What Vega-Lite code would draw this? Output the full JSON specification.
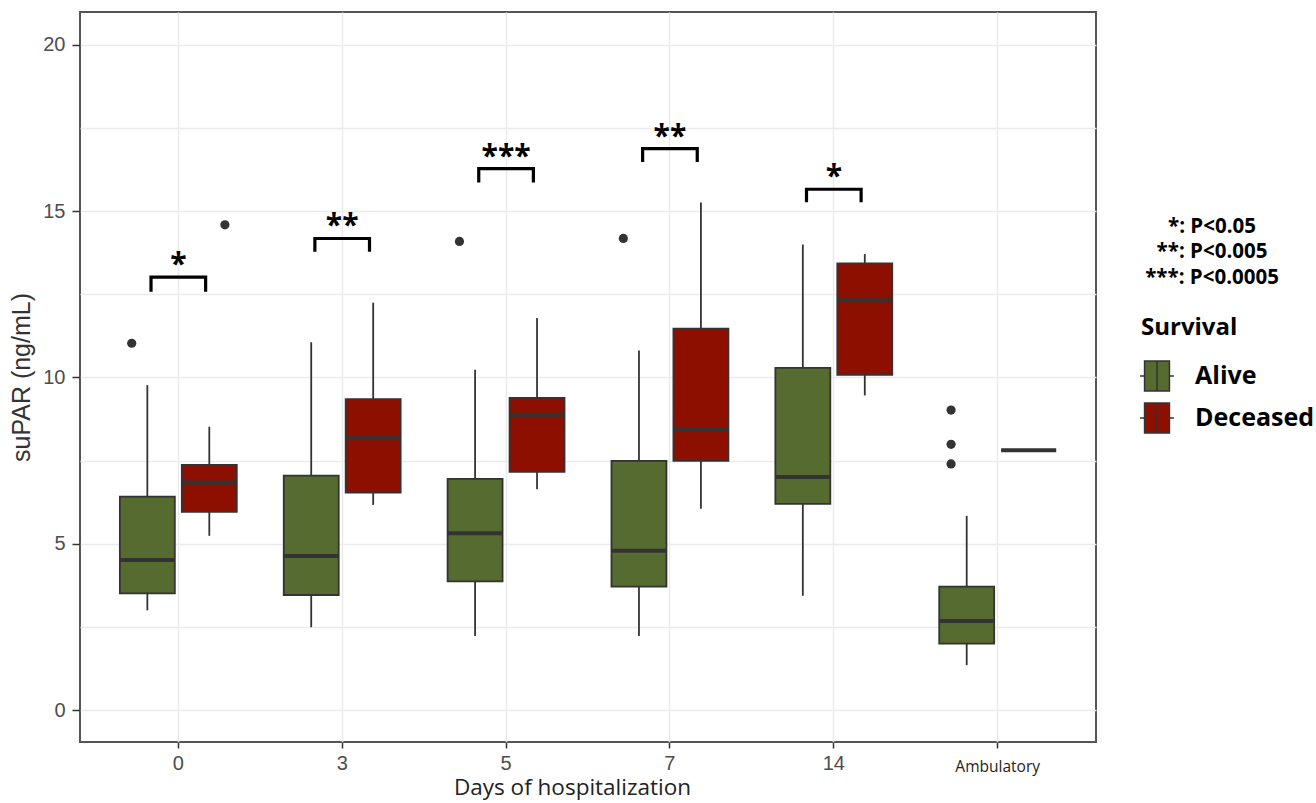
{
  "$schema": "https://vega.github.io/schema/vega-lite/v6.json",
  "width": 1016,
  "height": 730,
  "autosize": {"type": "none"},
  "padding": {"left": 80, "top": 12, "right": 220, "bottom": 61},
  "background": "white",
  "title": {
    "text": ["*: P<0.05", "**: P<0.005", "***: P<0.0005"],
    "orient": "top",
    "frame": "group",
    "anchor": "end",
    "align": "center",
    "baseline": "alphabetic",
    "offset": 0,
    "dx": 116,
    "dy": 292,
    "font": "Open Sans",
    "fontSize": 20.5,
    "fontWeight": "bold",
    "lineHeight": 25.5,
    "color": "black"
  },
  "config": {
    "view": {"stroke": "#555555", "strokeWidth": 2},
    "axis": {
      "domain": false,
      "gridColor": "#ebebeb",
      "gridWidth": 1.5,
      "tickColor": "#333333",
      "tickWidth": 1.5,
      "labelColor": "#4d4d4d",
      "labelFont": "Liberation Sans",
      "labelFontSize": 20,
      "titleFontWeight": "normal"
    }
  },
  "datasets": {
    "boxes": [
      {"day": "0", "survival": "Alive", "lo": 3.0, "q1": 3.51, "med": 4.51, "q3": 6.42, "hi": 9.77},
      {"day": "0", "survival": "Deceased", "lo": 5.24, "q1": 5.96, "med": 6.84, "q3": 7.37, "hi": 8.52},
      {"day": "3", "survival": "Alive", "lo": 2.49, "q1": 3.46, "med": 4.63, "q3": 7.05, "hi": 11.06},
      {"day": "3", "survival": "Deceased", "lo": 6.17, "q1": 6.54, "med": 8.17, "q3": 9.35, "hi": 12.25},
      {"day": "5", "survival": "Alive", "lo": 2.23, "q1": 3.87, "med": 5.32, "q3": 6.95, "hi": 10.23},
      {"day": "5", "survival": "Deceased", "lo": 6.64, "q1": 7.16, "med": 8.88, "q3": 9.39, "hi": 11.79},
      {"day": "7", "survival": "Alive", "lo": 2.23, "q1": 3.71, "med": 4.79, "q3": 7.49, "hi": 10.81},
      {"day": "7", "survival": "Deceased", "lo": 6.05, "q1": 7.49, "med": 8.42, "q3": 11.47, "hi": 15.26},
      {"day": "14", "survival": "Alive", "lo": 3.44, "q1": 6.2, "med": 7.01, "q3": 10.29, "hi": 14.0},
      {"day": "14", "survival": "Deceased", "lo": 9.46, "q1": 10.08, "med": 12.32, "q3": 13.43, "hi": 13.71},
      {"day": "Ambulatory", "survival": "Alive", "lo": 1.35, "q1": 2.0, "med": 2.68, "q3": 3.71, "hi": 5.84},
      {"day": "Ambulatory", "survival": "Deceased", "lo": 7.81, "q1": 7.81, "med": 7.81, "q3": 7.81, "hi": 7.81}
    ],
    "outliers": [
      {"day": "0", "survival": "Alive", "value": 11.03},
      {"day": "0", "survival": "Deceased", "value": 14.59},
      {"day": "5", "survival": "Alive", "value": 14.09},
      {"day": "7", "survival": "Alive", "value": 14.18},
      {"day": "Ambulatory", "survival": "Alive", "value": 9.02},
      {"day": "Ambulatory", "survival": "Alive", "value": 7.99},
      {"day": "Ambulatory", "survival": "Alive", "value": 7.4}
    ],
    "brackets": [
      {"day": "0", "side": "Alive", "ord": 0, "y": 12.63},
      {"day": "0", "side": "Alive", "ord": 1, "y": 13.02},
      {"day": "0", "side": "Deceased", "ord": 2, "y": 13.02},
      {"day": "0", "side": "Deceased", "ord": 3, "y": 12.63},
      {"day": "3", "side": "Alive", "ord": 0, "y": 13.83},
      {"day": "3", "side": "Alive", "ord": 1, "y": 14.18},
      {"day": "3", "side": "Deceased", "ord": 2, "y": 14.18},
      {"day": "3", "side": "Deceased", "ord": 3, "y": 13.83},
      {"day": "5", "side": "Alive", "ord": 0, "y": 15.91},
      {"day": "5", "side": "Alive", "ord": 1, "y": 16.28},
      {"day": "5", "side": "Deceased", "ord": 2, "y": 16.28},
      {"day": "5", "side": "Deceased", "ord": 3, "y": 15.91},
      {"day": "7", "side": "Alive", "ord": 0, "y": 16.53},
      {"day": "7", "side": "Alive", "ord": 1, "y": 16.88},
      {"day": "7", "side": "Deceased", "ord": 2, "y": 16.88},
      {"day": "7", "side": "Deceased", "ord": 3, "y": 16.53},
      {"day": "14", "side": "Alive", "ord": 0, "y": 15.32},
      {"day": "14", "side": "Alive", "ord": 1, "y": 15.66},
      {"day": "14", "side": "Deceased", "ord": 2, "y": 15.66},
      {"day": "14", "side": "Deceased", "ord": 3, "y": 15.32}
    ],
    "stars": [
      {"day": "0", "stars": "*", "y": 13.02},
      {"day": "3", "stars": "**", "y": 14.18},
      {"day": "5", "stars": "***", "y": 16.28},
      {"day": "7", "stars": "**", "y": 16.88},
      {"day": "14", "stars": "*", "y": 15.66}
    ]
  },
  "resolve": {"scale": {"xOffset": "independent"}},
  "layer": [
    {
      "data": {"name": "boxes"},
      "mark": {"type": "rule", "stroke": "#333333", "strokeWidth": 1.8},
      "encoding": {
        "x": {
          "field": "day", "type": "nominal", "title": "Days of hospitalization",
          "scale": {"type": "band", "domain": ["0", "3", "5", "7", "14", "Ambulatory"], "paddingInner": 0, "paddingOuter": 0.1},
          "axis": {
            "bandPosition": 0.5,
            "grid": true,
            "labelAngle": 0,
            "tickSize": 6,
            "labelPadding": {"condition": {"test": "datum.value === 'Ambulatory'", "value": 11}, "value": 5},
            "labelFont": {"condition": {"test": "datum.value === 'Ambulatory'", "value": "Open Sans"}, "value": "Liberation Sans"},
            "labelFontSize": {"condition": {"test": "datum.value === 'Ambulatory'", "value": 15.5}, "value": 20},
            "labelColor": {"condition": {"test": "datum.value === 'Ambulatory'", "value": "#222222"}, "value": "#4d4d4d"},
            "titleFont": "Open Sans",
            "titleFontSize": 22.5,
            "titleColor": "#222222",
            "titlePadding": 2,
            "titleX": 492
          }
        },
        "xOffset": {"field": "survival", "type": "nominal", "scale": {"domain": ["Alive", "Deceased"], "paddingInner": 0.113, "paddingOuter": 0.379}},
        "y": {
          "field": "lo", "type": "quantitative", "title": "suPAR (ng/mL)",
          "scale": {"domain": [-0.96, 20.99], "nice": false, "zero": false},
          "axis": {
            "values": [0, 2.5, 5, 7.5, 10, 12.5, 15, 17.5, 20],
            "labelExpr": "datum.value % 5 === 0 ? datum.label : ''",
            "tickOpacity": {"condition": {"test": "datum.value % 5 !== 0", "value": 0}, "value": 1},
            "tickSize": 8,
            "labelPadding": 7,
            "titleFont": "Liberation Sans",
            "titleFontSize": 25,
            "titleColor": "#333333",
            "titlePadding": 8
          }
        },
        "y2": {"field": "hi"}
      }
    },
    {
      "data": {"name": "boxes"},
      "mark": {"type": "bar", "stroke": "#333333", "strokeWidth": 1.8},
      "encoding": {
        "x": {"field": "day", "type": "nominal", "title": "Days of hospitalization"},
        "xOffset": {"field": "survival", "type": "nominal", "scale": {"domain": ["Alive", "Deceased"], "paddingInner": 0.113, "paddingOuter": 0.379}},
        "y": {"field": "q1", "type": "quantitative", "title": "suPAR (ng/mL)"},
        "y2": {"field": "q3"},
        "fill": {
          "field": "survival", "type": "nominal",
          "scale": {"domain": ["Alive", "Deceased"], "range": ["#556b2f", "#8c0f00"]},
          "legend": {
            "orient": "none",
            "legendX": 1061,
            "legendY": 304,
            "title": "Survival",
            "titleFont": "Open Sans",
            "titleFontSize": 24,
            "titleFontWeight": "bold",
            "titleColor": "black",
            "titlePadding": 20,
            "labelFont": "Open Sans",
            "labelFontSize": 25,
            "labelFontWeight": "bold",
            "labelColor": "black",
            "labelOffset": 22,
            "symbolType": "M-0.83,-1H0.83V1H-0.83Z M-1.13,0H-0.83 M0.83,0H1.13 M0,-1V1",
            "symbolSize": 900,
            "symbolStrokeColor": "#333333",
            "symbolStrokeWidth": 1.5,
            "symbolOpacity": 1,
            "rowPadding": 6,
            "padding": 0
          }
        }
      }
    },
    {
      "data": {"name": "boxes"},
      "mark": {"type": "tick", "color": "#333333", "thickness": 4, "size": 55, "opacity": 1},
      "encoding": {
        "x": {"field": "day", "type": "nominal", "title": "Days of hospitalization"},
        "xOffset": {"field": "survival", "type": "nominal", "scale": {"domain": ["Alive", "Deceased"], "paddingInner": 0.113, "paddingOuter": 0.379}},
        "y": {"field": "med", "type": "quantitative", "title": "suPAR (ng/mL)"}
      }
    },
    {
      "data": {"name": "outliers"},
      "mark": {"type": "point", "filled": true, "color": "#333333", "size": 85, "opacity": 1},
      "encoding": {
        "x": {"field": "day", "type": "nominal", "title": "Days of hospitalization"},
        "xOffset": {"field": "survival", "type": "nominal", "scale": {"domain": ["Alive", "Deceased"], "paddingInner": 0.113, "paddingOuter": 0.379}},
        "y": {"field": "value", "type": "quantitative", "title": "suPAR (ng/mL)"}
      }
    },
    {
      "data": {"name": "brackets"},
      "mark": {"type": "line", "color": "black", "strokeWidth": 3.2, "strokeJoin": "miter", "strokeCap": "square"},
      "encoding": {
        "x": {"field": "day", "type": "nominal", "title": "Days of hospitalization"},
        "xOffset": {"field": "side", "type": "nominal", "scale": {"type": "point", "domain": ["Alive", "Deceased"], "padding": 1.108}},
        "y": {"field": "y", "type": "quantitative", "title": "suPAR (ng/mL)"},
        "detail": {"field": "day", "type": "nominal"},
        "order": {"field": "ord", "type": "quantitative"}
      }
    },
    {
      "data": {"name": "stars"},
      "mark": {"type": "text", "font": "Open Sans", "fontSize": 30, "fontWeight": "bold", "baseline": "alphabetic", "dy": -3, "color": "black"},
      "encoding": {
        "x": {"field": "day", "type": "nominal", "title": "Days of hospitalization"},
        "y": {"field": "y", "type": "quantitative", "title": "suPAR (ng/mL)"},
        "text": {"field": "stars", "type": "nominal"}
      }
    }
  ]
}
